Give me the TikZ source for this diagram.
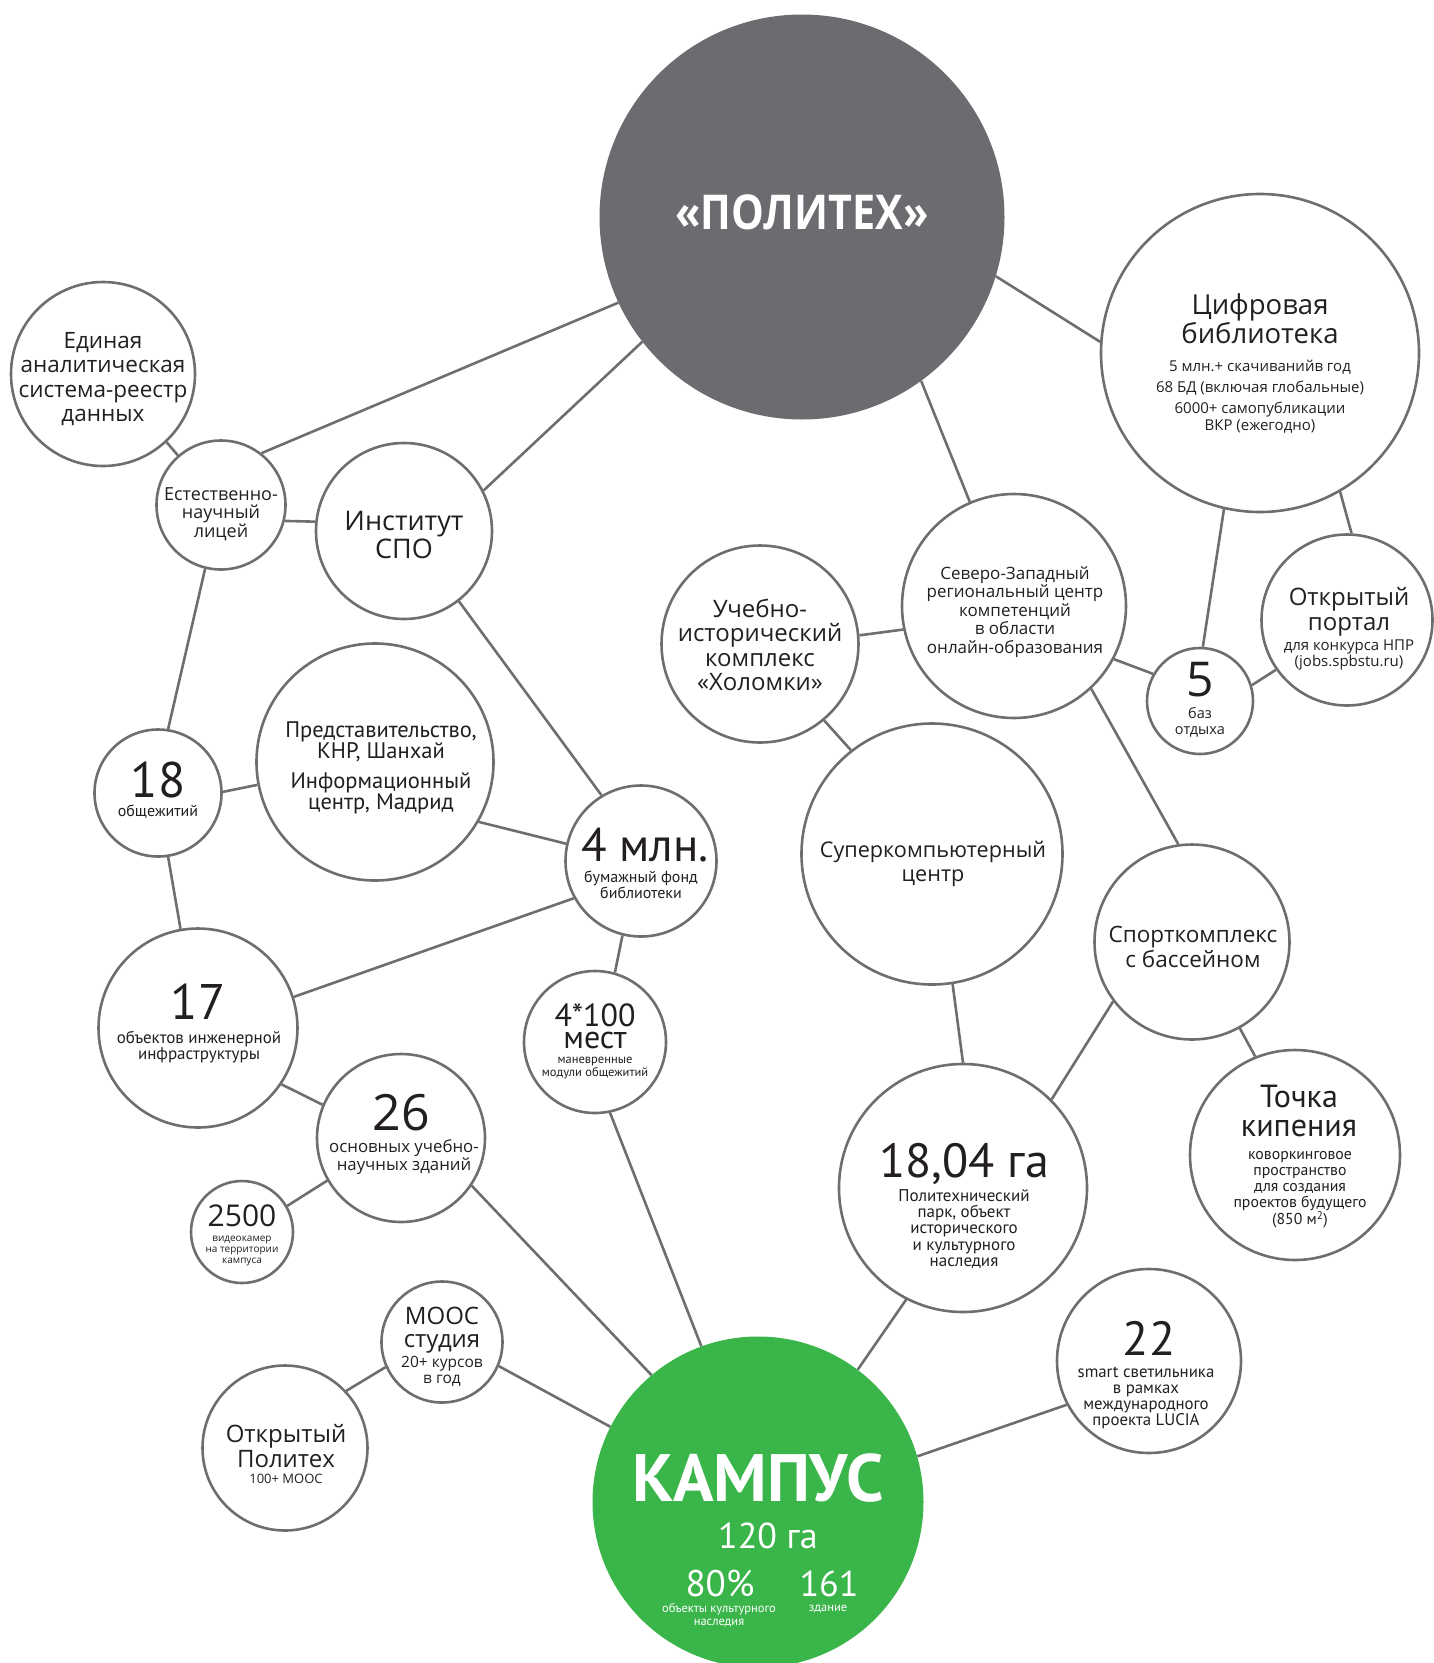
\documentclass[tikz,border=0pt]{standalone}
\usepackage{graphicx}
\usepackage{fontspec}
\setmainfont{Open Sans}
\newfontfamily\ptsans{PT Sans}
\newcommand\fsz[2]{\fontsize{#1}{#2}\selectfont}
\definecolor{edge}{HTML}{6D6E71}
\definecolor{hub}{HTML}{6B6C6F}
\definecolor{leaf}{HTML}{3AB54A}
\definecolor{ink}{HTML}{231F20}
\begin{document}
\begin{tikzpicture}[x=1pt,y=-1pt,
  ring/.style={circle,draw=edge,line width=2.6pt,fill=white,inner sep=0pt,minimum size=#1},
  link/.style={draw=edge,line width=2.6pt},
  txt/.style={align=center,text=ink,inner sep=0pt,font=#1},
  wtxt/.style={align=center,text=white,inner sep=0pt,font=#1},
]
\useasboundingbox (0,0) rectangle (1433,1663);

% circles
\node[circle,fill=hub,inner sep=0pt,minimum size=405pt] (poli) at (802,217) {};
\node[ring=184pt] (edin) at (103,374) {};
\node[ring=129pt] (lyc) at (221,505) {};
\node[ring=176pt] (spo) at (404,531) {};
\node[ring=318pt] (lib) at (1260,353) {};
\node[ring=171pt] (portal) at (1347,620) {};
\node[ring=106pt] (baz) at (1200,701) {};
\node[ring=224pt] (nw) at (1014,606) {};
\node[ring=197pt] (khol) at (760,644) {};
\node[ring=261pt] (super) at (932,854) {};
\node[ring=195pt] (sport) at (1192,942) {};
\node[ring=210pt] (tochka) at (1295,1155) {};
\node[ring=248pt] (park) at (963,1188) {};
\node[ring=184pt] (lucia) at (1149,1361) {};
\node[circle,fill=leaf,inner sep=0pt,minimum size=331pt] (campus) at (758,1502) {};
\node[ring=165pt] (openp) at (285,1448) {};
\node[ring=121pt] (mooc) at (442,1342) {};
\node[ring=102pt] (cams) at (242,1232) {};
\node[ring=168pt] (bld) at (401,1138) {};
\node[ring=142pt] (mod) at (595,1042) {};
\node[ring=199pt] (eng) at (198,1028) {};
\node[ring=127pt] (dorm) at (158,793) {};
\node[ring=237pt] (rep) at (375,762) {};
\node[ring=151pt] (fund) at (641,861) {};

% connectors
\draw[link] (poli.205.9) -- (lyc.52.4);
\draw[link] (poli.218) -- (spo.27.8);
\draw[link] (poli.-17.2) -- (lib.176.2);
\draw[link] (poli.-54.1) -- (nw.113.7);
\draw[link] (edin.-47.3) -- (lyc.131);
\draw[link] (lyc.-14.7) -- (spo.174.5);
\draw[link] (lyc.256.2) -- (dorm.81.5);
\draw[link] (spo.-52.7) -- (fund.121.7);
\draw[link] (lib.-103.8) -- (baz.87.7);
\draw[link] (lib.-60) -- (portal.87.9);
\draw[link] (portal.215.9) -- (baz.17.7);
\draw[link] (nw.-28.2) -- (baz.150.9);
\draw[link] (nw.192.2) -- (khol.5.5);
\draw[link] (nw.-47.7) -- (sport.98.7);
\draw[link] (khol.-50) -- (super.128);
\draw[link] (super.-81.2) -- (park.90);
\draw[link] (sport.217.6) -- (park.45.3);
\draw[link] (sport.-61.8) -- (tochka.112.4);
\draw[link] (park.243.2) -- (campus.53.4);
\draw[link] (lucia.208.2) -- (campus.16.8);
\draw[link] (dorm.1) -- (rep.191);
\draw[link] (dorm.-81.5) -- (eng.100.4);
\draw[link] (rep.-30.4) -- (fund.167.7);
\draw[link] (fund.209) -- (eng.18.4);
\draw[link] (fund.256.5) -- (mod.74.7);
\draw[link] (mod.-78.4) -- (campus.110.3);
\draw[link] (eng.-34) -- (bld.157.5);
\draw[link] (bld.210.5) -- (cams.30.6);
\draw[link] (bld.-34.7) -- (campus.130.6);
\draw[link] (mooc.-23.5) -- (campus.153.4);
\draw[link] (mooc.204.8) -- (openp.43);

% labels
\node[wtxt={\fsz{48}{50}\bfseries}] (poli-t) at (802,212) {\scalebox{0.86}[1]{«ПОЛИТЕХ»}};
\node[txt={\fsz{22.5}{24.4}}] (edin-t) at (103,379) {Единая\\аналитическая\\система-реестр\\данных};
\node[txt={\fsz{18}{18.6}}] (lyc-t) at (221,514) {Естественно-\\научный\\лицей};
\node[txt={\fsz{27}{22.8}}] (spo-t) at (404,535) {Институт\\СПО};
\node[txt={\fsz{27.5}{24.4}}] (lib-t) at (1260,319) {Цифровая\\библиотека};
\node[txt={\fsz{15}{17}}] (lib-s) at (1260,397) {5 млн.+ скачиванийв год\\[4pt]68 БД (включая глобальные)\\[4pt]6000+ самопубликации\\ВКР (ежегодно)};
\node[txt={\fsz{24}{25.5}}] (portal-t) at (1349,612) {Открытый\\портал};
\node[txt={\fsz{15}{16}}] (portal-s) at (1349,655) {для конкурса НПР\\(jobs.spbstu.ru)};
\node[txt={\fsz{48}{50}}] (baz-n) at (1200,680) {5};
\node[txt={\fsz{14.5}{16}}] (baz-s) at (1200,722) {баз\\отдыха};
\node[txt={\fsz{17}{18.6}}] (nw-t) at (1015,612) {Северо-Западный\\региональный центр\\компетенций\\в области\\онлайн-образования};
\node[txt={\fsz{24}{24.4}}] (khol-t) at (760,645) {Учебно-\\исторический\\комплекс\\«Холомки»};
\node[txt={\fsz{21.6}{24.4}}] (super-t) at (933,864) {Суперкомпьютерный\\центр};
\node[txt={\fsz{22.5}{24.4}}] (sport-t) at (1193,947) {Спорткомплекс\\с бассейном};
\node[txt={\ptsans\fsz{32}{29.7}}] (tochka-t) at (1299,1111) {Точка\\кипения};
\node[txt={\ptsans\fsz{15.8}{16}}] (tochka-s) at (1300,1190) {коворкинговое\\пространство\\для создания\\проектов будущего\\(850 м\textsuperscript{2})};
\node[txt={\ptsans\fsz{48}{50}}] (park-n) at (964,1164) {18,04 га};
\node[txt={\ptsans\fsz{17}{16.2}}] (park-s) at (964,1229) {Политехнический\\парк, объект\\исторического\\и культурного\\наследия};
\node[txt={\ptsans\fsz{48}{50}}] (lucia-n) at (1149,1338) {22};
\node[txt={\ptsans\fsz{16.8}{16.2}}] (lucia-s) at (1146,1398) {smart светильника\\в рамках\\международного\\проекта LUCIA};
\node[wtxt={\ptsans\fsz{67}{70}\bfseries}] (campus-t) at (758,1478) {КАМПУС};
\node[wtxt={\ptsans\fsz{36}{38}}] (campus-a) at (768,1536) {120 га};
\node[wtxt={\ptsans\fsz{37}{38}}] (campus-p) at (720,1584) {80\%};
\node[wtxt={\ptsans\fsz{36}{38}}] (campus-b) at (829,1584) {161};
\node[wtxt={\ptsans\fsz{12.5}{12.7}}] (campus-ps) at (719,1615) {объекты культурного\\наследия};
\node[wtxt={\ptsans\fsz{12.5}{12.7}}] (campus-bs) at (828,1609) {здание};
\node[txt={\fsz{24}{24.4}}] (openp-t) at (286,1446) {Открытый\\Политех};
\node[txt={\fsz{13}{14}}] (openp-s) at (286,1479) {100+ MOOC};
\node[txt={\fsz{24}{23.3}}] (mooc-t) at (442,1330) {MOOC\\студия};
\node[txt={\fsz{15.5}{16}}] (mooc-s) at (442,1371) {20+ курсов\\в год};
\node[txt={\fsz{30}{32}}] (cams-n) at (242,1216) {2500};
\node[txt={\fsz{10}{11}}] (cams-s) at (242,1251) {видеокамер\\на территории\\кампуса};
\node[txt={\fsz{50}{52}}] (bld-n) at (401,1113) {26};
\node[txt={\fsz{16.8}{16}}] (bld-s) at (404,1157) {основных учебно-\\научных зданий};
\node[txt={\ptsans\fsz{32}{22.5}}] (mod-n) at (595,1026) {4*100\\мест};
\node[txt={\ptsans\fsz{12.5}{13.8}}] (mod-s) at (595,1068) {маневренные\\модули общежитий};
\node[txt={\ptsans\fsz{50}{52}}] (eng-n) at (198,1002) {17};
\node[txt={\ptsans\fsz{17}{16.8}}] (eng-s) at (199,1047) {объектов инженерной\\инфраструктуры};
\node[txt={\ptsans\fsz{50}{52}}] (dorm-n) at (158,780) {18};
\node[txt={\ptsans\fsz{16}{17}}] (dorm-s) at (158,812) {общежитий};
\node[txt={\ptsans\fsz{22.5}{20.5}}] (rep-t) at (381,768) {Представительство,\\КНР, Шанхай\\[10pt]Информационный\\центр, Мадрид};
\node[txt={\ptsans\fsz{47}{50}}] (fund-n) at (645,845) {4 млн.};
\node[txt={\ptsans\fsz{16}{16}}] (fund-s) at (641,885) {бумажный фонд\\библиотеки};
\end{tikzpicture}
\end{document}
